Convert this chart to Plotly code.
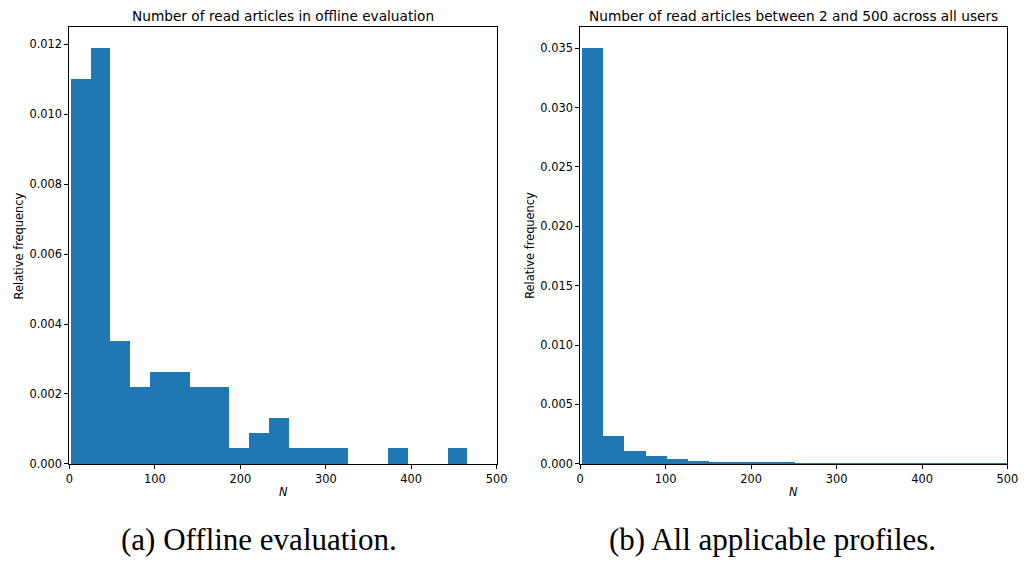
import numpy as np
import plotly.graph_objects as go
from plotly.subplots import make_subplots

# ---- data ----
# (a) offline evaluation: 20 bins between N=2 and N=466
left_lo, left_hi, left_nbins = 2, 466, 20
left_density = [0.01100, 0.01190, 0.00352, 0.00220, 0.00263, 0.00263, 0.00220,
                0.00220, 0.00044, 0.00088, 0.00131, 0.00044, 0.00044, 0.00044,
                0.0, 0.0, 0.00044, 0.0, 0.0, 0.00044]

# (b) all applicable profiles: 20 bins between N=2 and N=500
right_lo, right_hi, right_nbins = 2, 500, 20
right_density = [0.03500, 0.00228, 0.00103, 0.00061, 0.00036, 0.00020, 0.00014,
                 0.00010, 0.00008, 0.00005, 0.00002, 0.00002, 0.00001, 0.00001,
                 0.00001, 0.00001, 0.00001, 0.00001, 0.00001, 0.00001]

left_ticks = [0.000, 0.002, 0.004, 0.006, 0.008, 0.010, 0.012]
right_ticks = [0.000, 0.005, 0.010, 0.015, 0.020, 0.025, 0.030, 0.035]
x_ticks = [0, 100, 200, 300, 400, 500]

left_title = "Number of read articles in offline evaluation"
right_title = "Number of read articles between 2 and 500 across all users"
captions = ["(a) Offline evaluation.", "(b) All applicable profiles."]

BLUE = "#1f77b4"
W, H = 1031, 566


def bins(lo, hi, n):
    edges = np.linspace(lo, hi, n + 1)
    return (edges[:-1] + edges[1:]) / 2, edges[1] - edges[0]


fig = make_subplots(rows=1, cols=2)

lc, lw = bins(left_lo, left_hi, left_nbins)
rc, rw = bins(right_lo, right_hi, right_nbins)

fig.add_trace(go.Bar(x=lc, y=left_density, width=lw, marker=dict(color=BLUE, line=dict(width=0)),
                     showlegend=False), row=1, col=1)
fig.add_trace(go.Bar(x=rc, y=right_density, width=rw, marker=dict(color=BLUE, line=dict(width=0)),
                     showlegend=False), row=1, col=2)

# plot areas in pixels
L = (66.3, 500)
R = (584.7, 1018.3)
TOP, BOT = 27.7, 469.7

def px(x):
    return x / W

def py(y):
    return (H - y) / H

axis_common = dict(showline=True, linecolor="black", linewidth=1, mirror=True,
                   ticks="outside", ticklen=4, tickcolor="black", tickwidth=1,
                   showgrid=False, zeroline=False,
                   tickfont=dict(family="DejaVu Sans", size=11.4, color="black"))

fig.update_layout(
    width=W, height=H,
    margin=dict(l=0, r=0, t=0, b=0, pad=0),
    paper_bgcolor="white", plot_bgcolor="white",
    bargap=0,
    xaxis=dict(domain=[px(L[0]), px(L[1])], range=[0, 500], tickvals=x_ticks, **axis_common),
    xaxis2=dict(domain=[px(R[0]), px(R[1])], range=[0, 500], tickvals=x_ticks, **axis_common),
    yaxis=dict(domain=[py(BOT), py(TOP)], range=[0, 0.01249], tickvals=left_ticks,
               tickformat=".3f", **axis_common),
    yaxis2=dict(domain=[py(BOT), py(TOP)], range=[0, 0.03675], tickvals=right_ticks,
                tickformat=".3f", **axis_common),
)

ann = []
tfont = dict(family="DejaVu Sans", size=13.7, color="black")
lfont = dict(family="DejaVu Sans", size=11.4, color="black")
cfont = dict(family="Liberation Serif", size=31, color="black")
for (x0, x1), title in [(L, left_title), (R, right_title)]:
    cx = px((x0 + x1) / 2)
    ann.append(dict(text=title, x=cx, y=py(16), xref="paper", yref="paper",
                    showarrow=False, xanchor="center", yanchor="middle", font=tfont))
    ann.append(dict(text="<i>N</i>", x=cx, y=py(498), xref="paper", yref="paper",
                    showarrow=False, xanchor="center", yanchor="middle", font=lfont))
for xpix in (15, 533):
    ann.append(dict(text="Relative frequency", x=px(xpix), y=py((TOP + BOT) / 2),
                    xref="paper", yref="paper", showarrow=False, textangle=-90,
                    xanchor="center", yanchor="middle", font=lfont))
for xpix, cap in zip((259, 780), captions):
    ann.append(dict(text=cap, x=px(xpix), y=py(546), xref="paper", yref="paper",
                    showarrow=False, xanchor="center", yanchor="middle", font=cfont))

fig.update_layout(annotations=ann)
fig.write_html("out.html")
